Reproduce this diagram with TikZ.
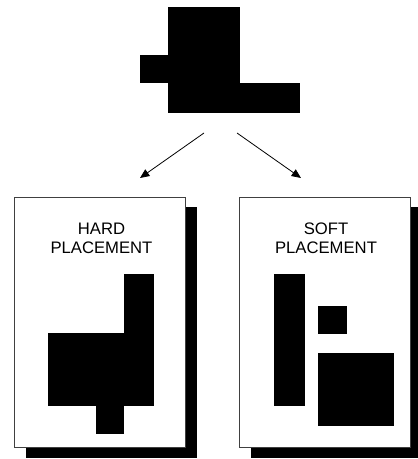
\documentclass[tikz,border=0pt]{standalone}
\usepackage{fontspec}
\setmainfont{Liberation Sans}
\usetikzlibrary{arrows.meta}

\tikzset{every picture/.style={line width=0.75pt}}
\tikzset{
  page/.style={draw=black!75, fill=white, line width=0.6pt},
  block/.style={fill=black},
  title/.style={align=center, inner sep=0.75pt, font=\fontsize{12.5}{14.25}\selectfont},
  flow/.style={-{Triangle[length=7pt,width=6pt]}, line width=0.6pt}
}

\begin{document}
\begin{tikzpicture}[x=0.75pt,y=0.75pt,yscale=-1,xscale=1]
		\path[use as bounding box] (0,0) rectangle (417,459);
		
		%Shape: top outline
		\fill[block] (168,7) rectangle (240,113);
		\fill[block] (140,55) rectangle (168,83);
		\fill[block] (240,83) rectangle (300,113);
		
		%arrows
		\coordinate (splitL) at (204,133);
		\coordinate (splitR) at (237,133);
		\coordinate (hardTop) at (140,178);
		\coordinate (softTop) at (301,178);
		\draw[flow] (splitL) -- (hardTop);
		\draw[flow] (splitR) -- (softTop);
		
		%Shape: hard page
		\fill[block] (26,207) rectangle (197,458);
		\draw[page] (14,197) rectangle (185,447);
		\node[title] (hardLbl) at (101.5,238.3) {HARD\\PLACEMENT};
		\fill[block] (124,274) rectangle (154,406);
		\fill[block] (48,333) rectangle (124,406);
		\fill[block] (96,406) rectangle (124,434);
		
		%Shape: soft page
		\fill[block] (251,207) rectangle (422,458);
		\draw[page] (239,197) rectangle (410,447);
		\node[title] (softLbl) at (326,238.3) {SOFT\\PLACEMENT};
		\fill[block] (274,274) rectangle (305,406);
		\fill[block] (318,306) rectangle (347,334);
		\fill[block] (318,353) rectangle (394,426);
		
	\end{tikzpicture}
\end{document}
